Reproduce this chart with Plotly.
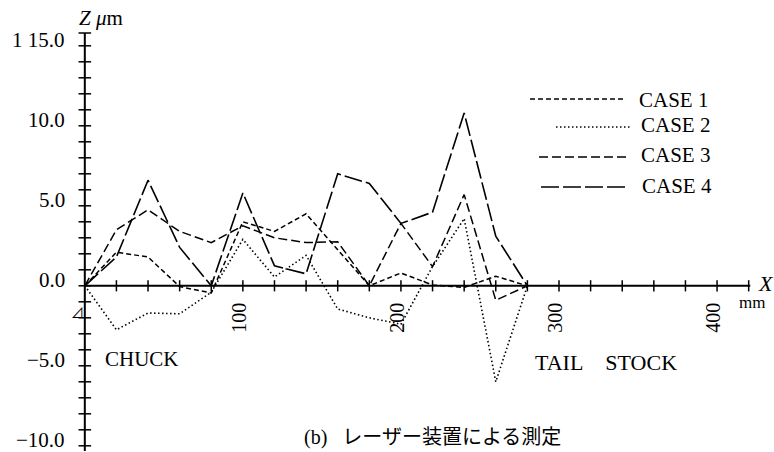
import plotly.graph_objects as go

# ---------------- data ----------------
X_MM = [0, 20, 40, 60, 80, 100, 120, 140, 160, 180, 200, 220, 240, 260, 280]
CASE1 = [0.0, 2.1, 1.8, -0.05, -0.45, 4.0, 3.4, 4.5, 2.25, 0.0, 0.8, 0.05, -0.1, 0.6, 0.0]
CASE2 = [0.0, -2.75, -1.7, -1.75, -0.4, 2.9, 0.55, 1.9, -1.45, -2.0, -2.4, 1.2, 4.2, -6.0, 0.0]
CASE3 = [0.0, 3.5, 4.75, 3.4, 2.7, 3.75, 3.0, 2.7, 2.75, 0.0, 3.9, 1.2, 5.7, -0.9, 0.0]
CASE4 = [0.0, 1.8, 6.6, 2.4, 0.0, 5.8, 1.25, 0.75, 7.0, 6.4, 3.9, 4.6, 10.8, 3.1, 0.0]

SERIES_NAMES = ["CASE 1", "CASE 2", "CASE 3", "CASE 4"]

Y_TICK_VALUES = [15, 10, 5, 0, -5, -10]
Y_TICK_LABELS = ["1 15.0", "10.0", "5.0", "0.0", "\u22125.0", "\u221210.0"]
X_TICK_VALUES = [100, 200, 300, 400]
X_TICK_LABELS = ["100", "200", "300", "400"]
Y_MINOR_TICKS = list(range(-10, 16))
X_MINOR_TICKS = list(range(20, 421, 20))

# ---------------- styling / layout ----------------
FONT = "Liberation Serif, Noto Sans CJK JP, serif"
W, H = 774, 452
ML, MR, MT, MB = 69, 19, 33, 1
PW, PH = W - ML - MR, H - MT - MB
X_RANGE = [-10, 424]
Y_RANGE = [15.8 - PH / 16.0, 15.8]
X_AXIS_END = 421

DASHES = ["5px,3px", "1.5px,2.5px", "9px,4px", "18px,4px"]
WIDTHS = [1.5, 1.6, 1.5, 1.6]


def px_x(p):
    return (p - ML) / PW


def px_y(p):
    return 1 - (p - MT) / PH


fig = go.Figure()

for name, ys, dash, wd in zip(SERIES_NAMES, [CASE1, CASE2, CASE3, CASE4], DASHES, WIDTHS):
    fig.add_trace(go.Scatter(x=X_MM, y=ys, mode="lines", name=name,
                             line=dict(color="black", width=wd, dash=dash),
                             showlegend=False, hoverinfo="skip"))

# axis tick marks (crossing ticks)
fig.add_trace(go.Scatter(x=[0] * len(Y_MINOR_TICKS), y=Y_MINOR_TICKS, mode="markers",
                         marker=dict(symbol="line-ew", size=9,
                                     line=dict(color="black", width=1.5)),
                         showlegend=False, cliponaxis=False, hoverinfo="skip"))
fig.add_trace(go.Scatter(x=[0], y=[Y_RANGE[1]], mode="markers",
                         marker=dict(symbol="line-ew", size=9,
                                     line=dict(color="black", width=1.5)),
                         showlegend=False, cliponaxis=False, hoverinfo="skip"))
fig.add_trace(go.Scatter(x=X_MINOR_TICKS, y=[0] * len(X_MINOR_TICKS), mode="markers",
                         marker=dict(symbol="line-ns", size=8,
                                     line=dict(color="black", width=1.5)),
                         showlegend=False, cliponaxis=False, hoverinfo="skip"))

shapes = [
    dict(type="line", xref="x", yref="paper", x0=0, x1=0, y0=0, y1=1,
         line=dict(color="black", width=2)),
    dict(type="line", xref="x", yref="y", x0=0, x1=X_AXIS_END, y0=0, y1=0,
         line=dict(color="black", width=2)),
]

# legend samples (drawn manually so the sample lines are long like the original)
LEG_LINE_X = [(530, 626), (556, 630), (539, 628), (541, 628)]
LEG_LINE_Y = [99, 127, 157, 187]
LEG_TEXT_X = [637, 639, 639, 640]
LEG_TEXT_Y = [100, 125, 155, 186]
annotations = []
for i, name in enumerate(SERIES_NAMES):
    x0, x1 = LEG_LINE_X[i]
    shapes.append(dict(type="line", xref="paper", yref="paper",
                       x0=px_x(x0), x1=px_x(x1), y0=px_y(LEG_LINE_Y[i]), y1=px_y(LEG_LINE_Y[i]),
                       line=dict(color="black", width=WIDTHS[i], dash=DASHES[i])))
    annotations.append(dict(xref="paper", yref="paper", x=px_x(LEG_TEXT_X[i]),
                            y=px_y(LEG_TEXT_Y[i]), text=name, showarrow=False,
                            xanchor="left", yanchor="middle",
                            font=dict(family=FONT, size=21, color="black")))

# y tick labels
for v, t in zip(Y_TICK_VALUES, Y_TICK_LABELS):
    annotations.append(dict(xref="x", yref="y", x=0, y=v, text=t, showarrow=False,
                            xanchor="right", yanchor="middle", xshift=-18, yshift=6,
                            font=dict(family=FONT, size=21, color="black")))
# x tick labels (rotated)
for v, t in zip(X_TICK_VALUES, X_TICK_LABELS):
    annotations.append(dict(xref="x", yref="y", x=v, y=0, text=t, showarrow=False,
                            textangle=-90, xanchor="center", yanchor="top",
                            xshift=-4, yshift=-15,
                            font=dict(family=FONT, size=20, color="black")))

# axis titles and notes
annotations += [
    dict(xref="paper", yref="paper", x=px_x(77), y=px_y(18), text="<i>Z</i> <i>\u03bc</i>m",
         showarrow=False, xanchor="left", yanchor="middle",
         font=dict(family=FONT, size=21, color="black")),
    dict(xref="paper", yref="paper", x=px_x(756), y=px_y(283), text="<i>X</i>",
         showarrow=False, xanchor="left", yanchor="middle",
         font=dict(family=FONT, size=22, color="black")),
    dict(xref="paper", yref="paper", x=px_x(752), y=px_y(302), text="mm",
         showarrow=False, xanchor="center", yanchor="middle",
         font=dict(family=FONT, size=17, color="black")),
    dict(xref="paper", yref="paper", x=px_x(77), y=px_y(311), text="\u22bf",
         showarrow=False, xanchor="center", yanchor="middle",
         font=dict(family="Noto Sans CJK JP", size=13, color="black")),
    dict(xref="paper", yref="paper", x=px_x(103), y=px_y(359), text="CHUCK",
         showarrow=False, xanchor="left", yanchor="middle",
         font=dict(family=FONT, size=21, color="black")),
    dict(xref="paper", yref="paper", x=px_x(533), y=px_y(362),
         text="TAIL\u00a0\u00a0\u00a0 STOCK",
         showarrow=False, xanchor="left", yanchor="middle",
         font=dict(family=FONT, size=22, color="black")),
    dict(xref="paper", yref="paper", x=px_x(302), y=px_y(437),
         text="(b)\u00a0\u00a0\u00a0\u30ec\u30fc\u30b6\u30fc\u88c5\u7f6e\u306b\u3088\u308b\u6e2c\u5b9a",
         showarrow=False, xanchor="left", yanchor="middle",
         font=dict(family=FONT, size=20, color="black")),
]

fig.update_layout(
    width=W, height=H,
    margin=dict(l=ML, r=MR, t=MT, b=MB, pad=0, autoexpand=False),
    paper_bgcolor="white", plot_bgcolor="white",
    xaxis=dict(range=X_RANGE, showgrid=False, zeroline=False, showticklabels=False,
               ticks="", showline=False, fixedrange=True),
    yaxis=dict(range=Y_RANGE, showgrid=False, zeroline=False, showticklabels=False,
               ticks="", showline=False, fixedrange=True),
    shapes=shapes,
    annotations=annotations,
    showlegend=False,
    hovermode=False,
)

fig.write_html("out.html",
               config={"displayModeBar": False, "staticPlot": True},
               post_script="document.body.style.margin='0';document.body.style.overflow='hidden';")
